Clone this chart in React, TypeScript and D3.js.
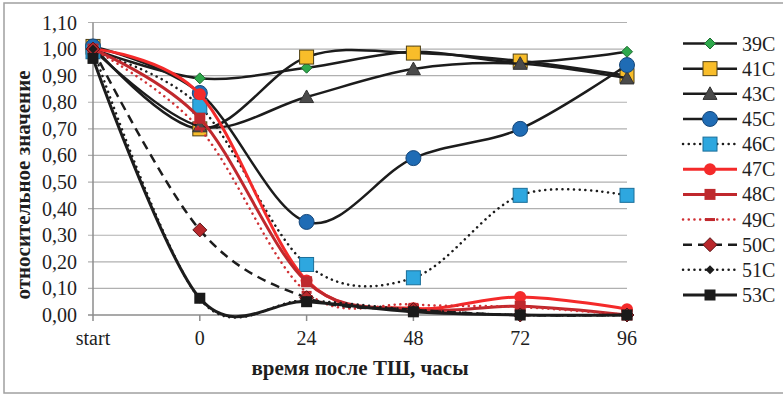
import React from 'react';
import * as d3 from 'd3';

const categories = ['start', '0', '24', '48', '72', '96'];
const seriesNames = ['39C', '41C', '43C', '45C', '46C', '47C', '48C', '49C', '50C', '51C', '53C'];

const v39 = [1.0, 0.89, 0.93, 0.99, 0.95, 0.99];
const v41 = [1.01, 0.7, 0.97, 0.985, 0.955, 0.9];
const v43 = [1.0, 0.71, 0.82, 0.925, 0.945, 0.89];
const v45 = [1.01, 0.835, 0.35, 0.59, 0.7, 0.94];
const v46 = [0.99, 0.785, 0.19, 0.14, 0.45, 0.45];
const v47 = [1.0, 0.83, 0.13, 0.025, 0.068, 0.022];
const v48 = [1.0, 0.74, 0.125, 0.02, 0.033, 0.0];
const v49 = [1.0, 0.7, 0.085, 0.04, 0.03, 0.0];
const v50 = [1.0, 0.32, 0.065, 0.02, 0.0, 0.0];
const v51 = [1.0, 0.06, 0.055, 0.02, 0.0, 0.0];
const v53 = [0.965, 0.063, 0.05, 0.012, 0.0, 0.0];

const yTicks = [0, 0.1, 0.2, 0.3, 0.4, 0.5, 0.6, 0.7, 0.8, 0.9, 1.0, 1.1];

type Style = {
  line: string; width: number; dash?: string;
  marker: 'diamond' | 'square' | 'triangle' | 'circle' | 'dash';
  size: number; fill: string; stroke?: string;
};

const styles: Style[] = [
  { line: '#1c1c1c', width: 2.5, marker: 'diamond', size: 5.5, fill: '#2ea84c', stroke: '#1d6b30' },
  { line: '#1c1c1c', width: 2.5, marker: 'square', size: 7, fill: '#f8bd2a', stroke: '#4d3f15' },
  { line: '#1c1c1c', width: 2.5, marker: 'triangle', size: 7, fill: '#4a4a4a', stroke: '#333' },
  { line: '#1c1c1c', width: 2.5, marker: 'circle', size: 7.5, fill: '#1f6cb5', stroke: '#16477a' },
  { line: '#1c1c1c', width: 2.5, dash: '0.1 5.6', marker: 'square', size: 7, fill: '#2ea7df', stroke: '#1b6f99' },
  { line: '#f42a2a', width: 3, marker: 'circle', size: 6, fill: '#f42a2a' },
  { line: '#c0282d', width: 3, marker: 'square', size: 5.5, fill: '#be2a2e' },
  { line: '#d03034', width: 2.5, dash: '0.1 5.6', marker: 'dash', size: 5, fill: '#c0282d' },
  { line: '#1c1c1c', width: 2.5, dash: '9 6', marker: 'diamond', size: 7, fill: '#b8282c', stroke: '#5a1416' },
  { line: '#1c1c1c', width: 2.5, dash: '0.1 5.6', marker: 'diamond', size: 4.5, fill: '#1c1c1c' },
  { line: '#1c1c1c', width: 3, marker: 'square', size: 5.5, fill: '#1a1a1a' },
];

const values = [v39, v41, v43, v45, v46, v47, v48, v49, v50, v51, v53];

const x = d3.scalePoint<string>().domain(categories).range([93, 627]);
const y = d3.scaleLinear().domain([0, 1.1]).range([315, 22.5]);
const line = d3.line<number>()
  .x((_, i) => x(categories[i]) as number)
  .y((d) => y(d))
  .curve(d3.curveCardinal.tension(0));

const fmt = (v: number) => d3.format('.2f')(v).replace('.', ',');

function Marker({ s, cx, cy }: { s: Style; cx: number; cy: number }) {
  const r = s.size;
  const common = { fill: s.fill, stroke: s.stroke || 'none', strokeWidth: 1 };
  if (s.marker === 'circle') return <circle cx={cx} cy={cy} r={r} {...common} />;
  if (s.marker === 'square') return <rect x={cx - r} y={cy - r} width={2 * r} height={2 * r} {...common} />;
  if (s.marker === 'dash') return <rect x={cx - r} y={cy - 1.5} width={2 * r} height={3} {...common} />;
  if (s.marker === 'diamond')
    return <path d={`M${cx},${cy - r}L${cx + r},${cy}L${cx},${cy + r}L${cx - r},${cy}Z`} {...common} />;
  return <path d={`M${cx},${cy - r}L${cx + r},${cy + r * 0.8}L${cx - r},${cy + r * 0.8}Z`} {...common} />;
}

export default function App() {
  const font = '"Liberation Serif", "Times New Roman", serif';
  return (
    <svg width={783} height={396} style={{ position: 'absolute', left: 0, top: 0, background: '#fff' }}
      fontFamily={font}>
      <rect x={4} y={3} width={800} height={390} fill="#fff" stroke="#a0a0a0" strokeWidth={1.5} />
      {yTicks.map((t) => (
        <g key={t}>
          <line x1={88} x2={627} y1={y(t)} y2={y(t)} stroke={t === 0 ? '#8c8c8c' : '#b0b0b0'} strokeWidth={t === 0 ? 1.5 : 1.2} />
          <text x={77} y={y(t) + 7} textAnchor="end" fontSize={20} fill="#1e1e1e">{fmt(t)}</text>
        </g>
      ))}
      <line x1={93} x2={93} y1={y(1.1)} y2={y(0)} stroke="#8c8c8c" strokeWidth={1.5} />
      {categories.map((c) => (
        <g key={c}>
          <line x1={x(c)} x2={x(c)} y1={315} y2={321} stroke="#8c8c8c" strokeWidth={1.5} />
          <text x={x(c)} y={345} textAnchor="middle" fontSize={20} fill="#1e1e1e">{c}</text>
        </g>
      ))}
      <text x={360} y={375} textAnchor="middle" fontSize={21} fontWeight="bold" fill="#1e1e1e">время после ТШ, часы</text>
      <text transform="translate(30,185) rotate(-90)" textAnchor="middle" fontSize={21} fontWeight="bold" fill="#1e1e1e">относительное значение</text>
      {values.map((vals, i) => {
        const s = styles[i];
        return (
          <g key={seriesNames[i]}>
            <path d={line(vals) || ''} fill="none" stroke={s.line} strokeWidth={s.width}
              strokeDasharray={s.dash} strokeLinecap={s.dash && s.dash.startsWith('0.1') ? 'round' : 'butt'} />
            {vals.map((v, j) => (
              <Marker key={j} s={s} cx={x(categories[j]) as number} cy={y(v)} />
            ))}
          </g>
        );
      })}
      {seriesNames.map((n, i) => {
        const s = styles[i];
        const ly = 43.5 + i * 25.15;
        return (
          <g key={n}>
            <line x1={683} x2={737} y1={ly} y2={ly} stroke={s.line} strokeWidth={s.width}
              strokeDasharray={s.dash} strokeLinecap={s.dash && s.dash.startsWith('0.1') ? 'round' : 'butt'} />
            <Marker s={s} cx={710} cy={ly} />
            <text x={742} y={ly + 7} fontSize={20} fill="#1e1e1e">{n}</text>
          </g>
        );
      })}
    </svg>
  );
}
